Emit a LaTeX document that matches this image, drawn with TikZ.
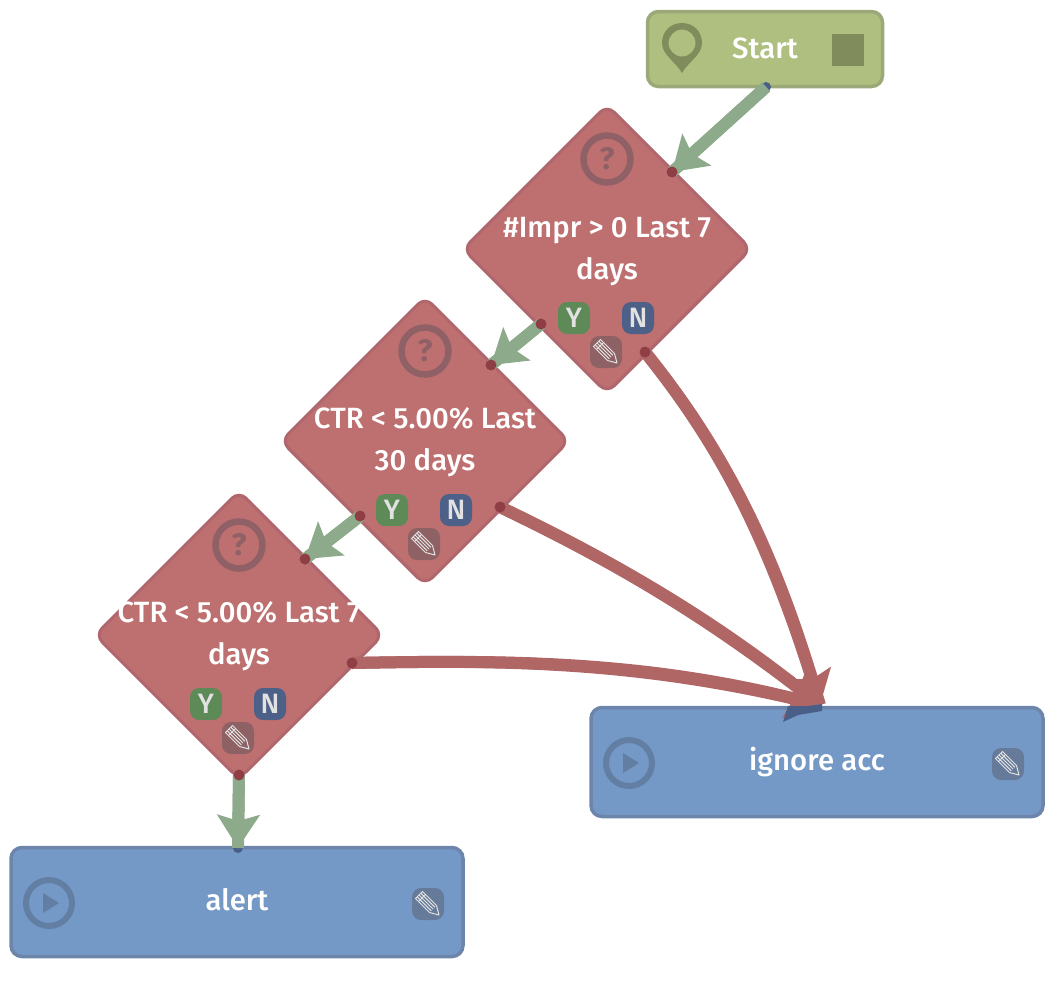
\documentclass[tikz,border=0pt]{standalone}
\usepackage{fontspec}
\setmainfont{Fira Sans}
\newfontfamily\labelfont{Fira Sans}[UprightFont=* Medium]
\usetikzlibrary{shapes.geometric,arrows.meta}
\definecolor{startfill}{HTML}{AFBF80}
\definecolor{startline}{HTML}{9BA877}
\definecolor{startmark}{HTML}{808C5C}
\definecolor{decfill}{HTML}{BE7070}
\definecolor{decline}{HTML}{AF666C}
\definecolor{decmark}{HTML}{8F6065}
\definecolor{actfill}{HTML}{7499C6}
\definecolor{actline}{HTML}{6D85AA}
\definecolor{actmark}{HTML}{627EA3}
\definecolor{yesflow}{HTML}{8DAA8B}
\definecolor{noflow}{HTML}{B16666}
\definecolor{portred}{HTML}{8E3E44}
\definecolor{portblue}{HTML}{4A5F88}
\definecolor{badgey}{HTML}{5E8A58}
\definecolor{badgen}{HTML}{4C6088}
\definecolor{penred}{HTML}{8E6265}
\definecolor{penblue}{HTML}{667A99}
\definecolor{badgetext}{HTML}{E2E2E2}
\tikzset{
  label text/.style={text=white,font=\labelfont\fontsize{29.3}{34}\selectfont,inner sep=0pt,anchor=base},
  start box/.style={draw=startline,fill=startfill,line width=3.5pt,rounded corners=11pt,minimum width=235pt,minimum height=75pt,inner sep=0pt},
  action box/.style={draw=actline,fill=actfill,line width=3.5pt,rounded corners=11pt,minimum width=452pt,minimum height=109pt,inner sep=0pt},
  decision/.style={shape=diamond,aspect=1,draw=decline,fill=decfill,line width=3pt,rounded corners=10pt,minimum width=289pt,minimum height=289pt,inner sep=0pt},
  badge/.style={rounded corners=9pt,minimum width=32pt,minimum height=32pt,inner sep=0pt,text=badgetext,font=\labelfont\fontsize{28}{30}\selectfont},
  yes badge/.style={badge,fill=badgey},
  no badge/.style={badge,fill=badgen},
  pen red/.style={badge,fill=penred},
  pen blue/.style={badge,fill=penblue},
  flow/.style={-{Stealth[length=33pt,width=42pt,inset=6pt]},postaction={draw,-}},
  yes flow/.style={flow,line width=12pt,draw=yesflow},
  no flow/.style={flow,line width=12pt,draw=noflow},
  port red/.style={fill=portred,draw=none},
  port blue/.style={fill=portblue,draw=none},
}
\newcommand\penmark[1]{%
  \begin{scope}[shift={(#1.center)},draw=badgetext,line width=1pt,line join=round]
    \draw (-5.5,-12.5) -- (-12.5,-5.5) -- (1.5,8.5) -- (11,11) -- (8.5,1.5) -- cycle;
    \draw (-9.5,-2.5) -- (-2.5,-9.5);
    \draw (-9,-9) -- (5,5);
    \draw (-7.2,-10.8) -- (6.8,3.2);
    \draw (-10.8,-7.2) -- (3.2,6.8);
  \end{scope}}
\newcommand\querymark[1]{%
  \node[circle,draw=decmark,line width=6.5pt,minimum size=47pt,inner sep=0pt,text=decmark,font=\fontsize{31}{31}\selectfont\bfseries] at (#1) {?};}
\newcommand\playmark[1]{%
  \draw[actmark,line width=6pt] (#1) circle (23pt);
  \fill[actmark] ([shift={(-6,-10)}]#1) -- ([shift={(10,0)}]#1) -- ([shift={(-6,10)}]#1) -- cycle;}
\begin{document}
\begin{tikzpicture}[x=1pt,y=-1pt]
\useasboundingbox (0,0) rectangle (1056,986);
% boxes and diamonds
\node[start box] (start) at (765,49) {};
\node[decision] (d1) at (607,249) {};
\node[decision] (d2) at (425,441) {};
\node[decision] (d3) at (239,635) {};
\node[action box] (ignore) at (817,762) {};
\node[action box] (alert) at (237,902) {};
% icons
\fill[startmark,even odd rule] (682,73) .. controls (676,62) and (662,55) .. (662,43) .. controls (662,31) and (671,23) .. (682,23) .. controls (693,23) and (702,31) .. (702,43) .. controls (702,55) and (688,62) .. (682,73) -- cycle (682,43) circle (13.5pt);
\fill[startmark] (832,34) rectangle (864,66);
\querymark{607,159}
\querymark{425,351}
\querymark{239,545}
\playmark{629,763}
\playmark{49,903}
% texts
\node[label text] (tstart) at (765,58) {Start};
\node[label text] (t1a) at (607,237) {\#Impr > 0 Last 7};
\node[label text] (t1b) at (607,279) {days};
\node[label text] (t2a) at (425,428) {CTR < 5.00\% Last};
\node[label text] (t2b) at (425,470) {30 days};
\node[label text] (t3a) at (239,622) {CTR < 5.00\% Last 7};
\node[label text] (t3b) at (239,664) {days};
\node[label text] (tignore) at (817,770) {ignore acc};
\node[label text] (talert) at (237,910) {alert};
% badges
\node[yes badge] (y1) at (574,318) {Y};
\node[no badge] (n1) at (638,318) {N};
\node[pen red] (p1) at (606,352) {};
\node[yes badge] (y2) at (392,510) {Y};
\node[no badge] (n2) at (456,510) {N};
\node[pen red] (p2) at (424,544) {};
\node[yes badge] (y3) at (206,704) {Y};
\node[no badge] (n3) at (270,704) {N};
\node[pen red] (p3) at (238,738) {};
\node[pen blue] (p4) at (1008,764) {};
\node[pen blue] (p5) at (428,904) {};
\penmark{p1}\penmark{p2}\penmark{p3}\penmark{p4}\penmark{p5}
% ports
\coordinate (sOut) at (766,87);
\coordinate (d1In) at (672,172);
\coordinate (d1Y) at (541,324);
\coordinate (d1N) at (645,352);
\coordinate (d2In) at (491,365);
\coordinate (d2Y) at (360,516);
\coordinate (d2N) at (500,507);
\coordinate (d3In) at (305,559);
\coordinate (d3Y) at (239,775);
\coordinate (d3N) at (352,663);
\coordinate (iIn) at (820,705);
\coordinate (aIn) at (238,848);
% target marks
\fill[portblue] (sOut) circle (5pt);
\fill[portblue] (aIn) circle (5pt);
% connectors
\draw[yes flow] (sOut) -- (d1In);
\draw[yes flow] (d1Y) -- (d2In);
\draw[yes flow] (d2Y) -- (d3In);
\draw[yes flow] (d3Y) -- (aIn);
\draw[no flow] (d1N) .. controls (720,445) and (770,540) .. (iIn);
\draw[no flow] (d2N) .. controls (600,555) and (700,610) .. (iIn);
\draw[no flow] (d3N) .. controls (500,660) and (640,660) .. (iIn);
\fill[portblue] (788,706) -- (783,722) -- (798,715) -- (822,711) -- (822,704) -- (808,706) -- cycle;
% port dots
\foreach \p in {d1In,d1Y,d1N,d2In,d2Y,d2N,d3In,d3Y,d3N}{\fill[port red] (\p) circle (5.5pt);}
\end{tikzpicture}
\end{document}
